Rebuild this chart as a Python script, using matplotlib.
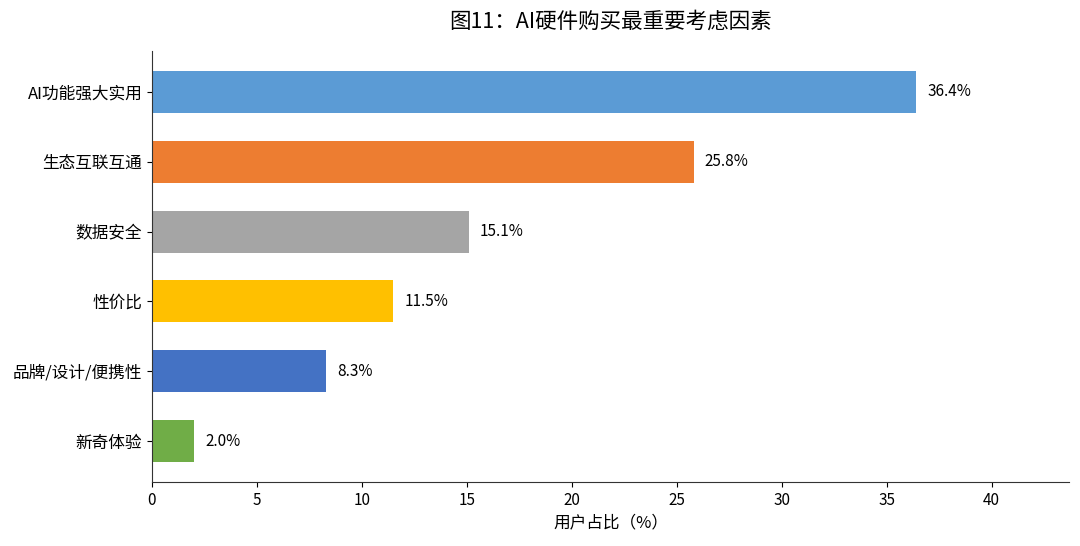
import matplotlib
matplotlib.use("Agg")
import matplotlib.pyplot as plt

plt.rcParams['font.family'] = ['Noto Sans CJK SC', 'DejaVu Sans']

categories = ["AI功能强大实用", "生态互联互通", "数据安全", "性价比", "品牌/设计/便携性", "新奇体验"]
values = [36.4, 25.8, 15.1, 11.5, 8.3, 2.0]
colors = ["#5B9BD5", "#ED7D31", "#A5A5A5", "#FFC000", "#4472C4", "#70AD47"]
xticks = [0, 5, 10, 15, 20, 25, 30, 35, 40]
title = "图11：AI硬件购买最重要考虑因素"
xlabel = "用户占比（%）"

fig = plt.figure(figsize=(10.8, 5.46), dpi=100)
ax = fig.add_axes([0.1407, 0.1172, 0.8491, 0.7894])

y = list(range(len(categories)))
bars = ax.barh(y, values, height=0.6, color=colors)
ax.set_yticks(y)
ax.set_yticklabels(categories, fontsize=12)
ax.invert_yaxis()
ax.set_xlim(0, max(values) * 1.2)
ax.set_xticks(xticks)
ax.tick_params(axis='x', labelsize=11)

for b, v in zip(bars, values):
    ax.annotate(f"{v:.1f}%", (b.get_width(), b.get_y() + b.get_height() / 2),
                xytext=(8, 0), textcoords='offset points', va='center', ha='left', fontsize=11)

ax.set_xlabel(xlabel, fontsize=12)
ax.spines['top'].set_visible(False)
ax.spines['right'].set_visible(False)
for s in ['left', 'bottom']:
    ax.spines[s].set_color('#333333')
fig.text(0.565, 0.96, title, ha='center', va='center', fontsize=15.5)

fig.savefig("out.png", dpi=100)
